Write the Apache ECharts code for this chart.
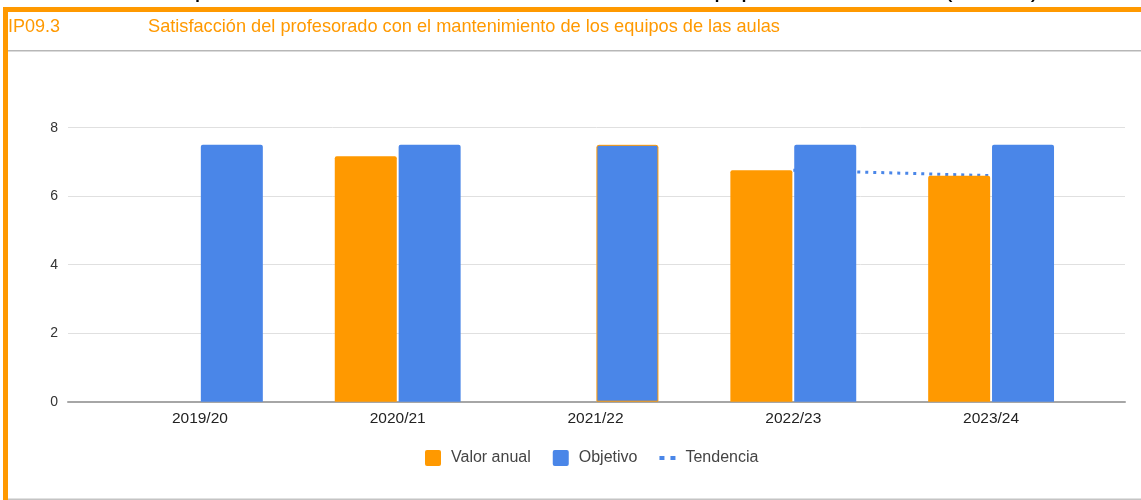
<!DOCTYPE html>
<html lang="es">
  <head>
    <meta charset="UTF-8" />
    <title>IP09.3</title>
    <script src="https://cdn.jsdelivr.net/npm/echarts@6/dist/echarts.min.js"></script>
    <style>
      html, body { margin: 0; padding: 0; background: #fff; }
      #main { width: 1141px; height: 500px; }
    </style>
  </head>
  <body>
    <div id="main"></div>
    <script>
      // datos
      var cursos = ["2019/20", "2020/21", "2021/22", "2022/23", "2023/24"];
      var valorAnual = [null, 7.17, null, 6.76, 6.6];
      var objetivo = [7.5, 7.5, 7.5, 7.5, 7.5];
      var tendencia = [null, 7.17, null, 6.76, 6.6];
      var ejeY = [0, 2, 4, 6, 8];

      var naranja = "#ff9900";
      var azul = "#4a86e8";
      var fuente = "Liberation Sans";

      var myChart = echarts.init(document.getElementById("main"));

      var option = {
        animation: false,
        textStyle: { fontFamily: fuente },
        title: [
          {
            text: "IP09.3",
            left: 8, top: 18, padding: 0,
            textStyle: { color: naranja, fontSize: 18, fontWeight: "normal", fontFamily: fuente }
          },
          {
            text: "Satisfacción del profesorado con el mantenimiento de los equipos de las aulas",
            left: 148, top: 18, padding: 0,
            textStyle: { color: naranja, fontSize: 18.2, fontWeight: "normal", fontFamily: fuente }
          }
        ],
        graphic: [
          // título grande cortado arriba (solo se ven los trazos inferiores)
          {
            type: "text", x: -2, y: -11, z: 1,
            style: {
              text: "Satisfacción del profesorado con el mantenimiento de los equipos de las aulas (IP09.3)",
              fontSize: 27, fontFamily: fuente, fill: "#000", verticalAlign: "middle"
            }
          },
          { type: "rect", z: 5, shape: { x: 3, y: 7, width: 1138, height: 5 }, style: { fill: naranja } },
          { type: "rect", z: 5, shape: { x: 3, y: 7, width: 5, height: 493 }, style: { fill: naranja } },
          { type: "rect", z: 4, shape: { x: 8, y: 50, width: 1133, height: 1.5 }, style: { fill: "#b7b7b7" } },
          { type: "rect", z: 4, shape: { x: 8, y: 498.5, width: 1133, height: 1.5 }, style: { fill: "#c4c4c4" } }
        ],
        legend: {
          left: 420, top: 445,
          itemWidth: 16, itemHeight: 16, itemGap: 22,
          textStyle: { fontSize: 16, color: "#444", padding: [0, 0, 0, 5] },
          data: [
            { name: "Valor anual", icon: "path://M2,0h12a2,2 0 0 1 2,2v12a2,2 0 0 1 -2,2h-12a2,2 0 0 1 -2,-2v-12a2,2 0 0 1 2,-2z" },
            { name: "Objetivo", icon: "path://M2,0h12a2,2 0 0 1 2,2v12a2,2 0 0 1 -2,2h-12a2,2 0 0 1 -2,-2v-12a2,2 0 0 1 2,-2z" },
            { name: "Tendencia", icon: "path://M0,0h5v4h-5zM11,0h5v4h-5z" }
          ]
        },
        grid: [
          { left: 68, right: 16, top: 127.7, bottom: 98.3 },
          { left: 101, right: 51, top: 127.7, bottom: 98.3 }
        ],
        xAxis: [
          {
            gridIndex: 0, type: "value", min: 0, max: 1,
            axisLine: { show: true, onZero: false, lineStyle: { color: "#a6a6a6", width: 2 } },
            axisTick: { show: false }, axisLabel: { show: false }, splitLine: { show: false }
          },
          {
            gridIndex: 1, type: "category", data: cursos,
            axisLine: { show: false }, axisTick: { show: false },
            axisLabel: { color: "#222", fontSize: 15.5, margin: 9 }
          }
        ],
        yAxis: [
          {
            gridIndex: 0, type: "value", min: ejeY[0], max: ejeY[ejeY.length - 1], interval: 2,
            axisLine: { show: false }, axisTick: { show: false },
            axisLabel: { color: "#333", fontSize: 14, margin: 10 },
            splitLine: { lineStyle: { color: "#e0e0e0", width: 1 } }
          },
          {
            gridIndex: 1, type: "value", min: 0, max: 8, interval: 2, show: false,
            splitLine: { show: false }
          }
        ],
        series: [
          {
            name: "Valor anual", type: "bar", xAxisIndex: 1, yAxisIndex: 1, z: 3,
            barWidth: 62, barGap: "3%",
            itemStyle: { color: naranja, borderRadius: [2, 2, 0, 0] },
            data: valorAnual
          },
          {
            name: "Objetivo", type: "bar", xAxisIndex: 1, yAxisIndex: 1, z: 3,
            barWidth: 62,
            itemStyle: { color: azul, borderRadius: [2, 2, 0, 0] },
            data: objetivo.map(function (v, i) {
              // en 2021/22 la barra azul aparece con borde naranja
              if (i === 2) return { value: v, itemStyle: { borderColor: naranja, borderWidth: 1 } };
              return v;
            })
          },
          {
            name: "Tendencia", type: "line", xAxisIndex: 1, yAxisIndex: 1, z: 2,
            symbol: "none",
            itemStyle: { color: azul },
            lineStyle: { color: azul, width: 3, type: [3, 5] },
            data: tendencia
          }
        ]
      };

      myChart.setOption(option);
    </script>
  </body>
</html>
